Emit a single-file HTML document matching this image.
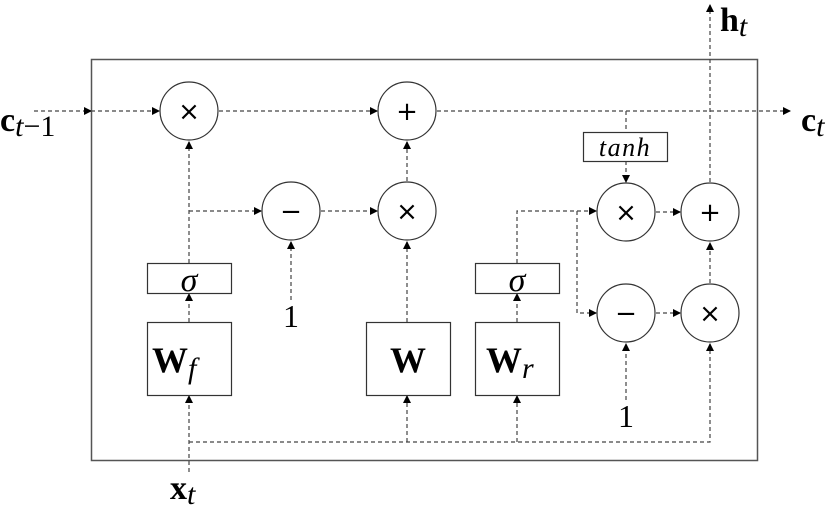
<!DOCTYPE html>
<html><head><style>
html,body{margin:0;padding:0;background:#fff;}
svg{display:block;}
text{font-family:"Liberation Serif","DejaVu Serif",serif;fill:#000;}
.op{font-family:"DejaVu Sans","Liberation Sans",sans-serif;font-size:26px;}
</style></head><body>
<svg width="830" height="514" viewBox="0 0 830 514" xmlns="http://www.w3.org/2000/svg">
<defs>
<marker id="a" markerWidth="8" markerHeight="8" refX="7" refY="4" orient="auto" markerUnits="userSpaceOnUse">
<path d="M0,0 L8,4 L0,8 z" fill="#000"/></marker>
</defs>
<rect x="91.5" y="59.5" width="666" height="401" fill="none" stroke="#555" stroke-width="1.5"/>
<g stroke="#444" stroke-width="1.2" stroke-dasharray="4,3" fill="none">
<line x1="34" y1="111" x2="91" y2="111" marker-end="url(#a)"/>
<line x1="91" y1="111" x2="159" y2="111" marker-end="url(#a)"/>
<line x1="219" y1="111" x2="377" y2="111" marker-end="url(#a)"/>
<line x1="437" y1="111" x2="790" y2="111" marker-end="url(#a)"/>
<line x1="626" y1="111" x2="626" y2="132"/>
<line x1="626" y1="161" x2="626" y2="182" marker-end="url(#a)"/>
<line x1="189" y1="263" x2="189" y2="142" marker-end="url(#a)"/>
<polyline points="189,211 261,211" marker-end="url(#a)"/>
<line x1="321" y1="211" x2="377" y2="211" marker-end="url(#a)"/>
<line x1="407" y1="181" x2="407" y2="142" marker-end="url(#a)"/>
<line x1="291" y1="300" x2="291" y2="242" marker-end="url(#a)"/>
<line x1="189" y1="322" x2="189" y2="294" marker-end="url(#a)"/>
<line x1="407" y1="322" x2="407" y2="242" marker-end="url(#a)"/>
<line x1="517" y1="322" x2="517" y2="294" marker-end="url(#a)"/>
<polyline points="517,263 517,211 596,211" marker-end="url(#a)"/>
<polyline points="577,211 577,313 596,313" marker-end="url(#a)"/>
<line x1="656" y1="212" x2="680" y2="212" marker-end="url(#a)"/>
<line x1="656" y1="313" x2="680" y2="313" marker-end="url(#a)"/>
<line x1="710" y1="283" x2="710" y2="243" marker-end="url(#a)"/>
<line x1="710" y1="182" x2="710" y2="5" marker-end="url(#a)"/>
<line x1="626" y1="400" x2="626" y2="344" marker-end="url(#a)"/>
<line x1="189" y1="472" x2="189" y2="396" marker-end="url(#a)"/>
<polyline points="189,442 710,442 710,344" marker-end="url(#a)"/>
<line x1="407" y1="442" x2="407" y2="396" marker-end="url(#a)"/>
<line x1="517" y1="442" x2="517" y2="396" marker-end="url(#a)"/>
</g>
<g fill="#fff" stroke="#333" stroke-width="1.2">
<circle cx="189" cy="111" r="29"/>
<circle cx="407" cy="111" r="29"/>
<circle cx="291" cy="211" r="29"/>
<circle cx="407" cy="211" r="29"/>
<circle cx="626" cy="212" r="29"/>
<circle cx="710" cy="212" r="29"/>
<circle cx="626" cy="313" r="29"/>
<circle cx="710" cy="313" r="29"/>
<rect x="147.5" y="263.5" width="84" height="30"/>
<rect x="475.5" y="263.5" width="84" height="30"/>
<rect x="583.5" y="132.5" width="84" height="29"/>
<rect x="147.5" y="322.5" width="84" height="73"/>
<rect x="366.5" y="322.5" width="84" height="73"/>
<rect x="475.5" y="322.5" width="84" height="73"/>
</g>
<g text-anchor="middle">
<text class="op" x="189" y="120">×</text>
<text class="op" x="407" y="120">+</text>
<text class="op" x="291" y="220">−</text>
<text class="op" x="407" y="220">×</text>
<text class="op" x="626" y="221">×</text>
<text class="op" x="710" y="221">+</text>
<text class="op" x="626" y="322">−</text>
<text class="op" x="710" y="322">×</text>
</g>
<text x="189" y="291" font-size="34" font-style="italic" text-anchor="middle">σ</text>
<text x="517" y="291" font-size="34" font-style="italic" text-anchor="middle">σ</text>
<text x="625" y="156" font-size="26" font-style="italic" text-anchor="middle" letter-spacing="1.5">tanh</text>
<text x="291" y="327" font-size="32" text-anchor="middle">1</text>
<text x="626" y="427" font-size="32" text-anchor="middle">1</text>
<text x="152" y="372" font-size="36" font-weight="bold">W<tspan font-size="30" font-weight="normal" font-style="italic" dy="6">f</tspan></text>
<text x="408" y="372" font-size="36" font-weight="bold" text-anchor="middle">W</text>
<text x="486" y="372" font-size="36" font-weight="bold">W<tspan font-size="30" font-weight="normal" font-style="italic" dy="6">r</tspan></text>
<text x="0" y="131" font-size="34" font-weight="bold">c<tspan font-size="30" font-weight="normal" font-style="italic" dy="5">t</tspan><tspan font-size="30" font-weight="normal" dy="0">−1</tspan></text>
<text x="801" y="131" font-size="34" font-weight="bold">c<tspan font-size="30" font-weight="normal" font-style="italic" dy="5">t</tspan></text>
<text x="720" y="31" font-size="34" font-weight="bold">h<tspan font-size="30" font-weight="normal" font-style="italic" dy="5">t</tspan></text>
<text x="170" y="499" font-size="34" font-weight="bold">x<tspan font-size="30" font-weight="normal" font-style="italic" dy="5">t</tspan></text>
</svg>
</body></html>
